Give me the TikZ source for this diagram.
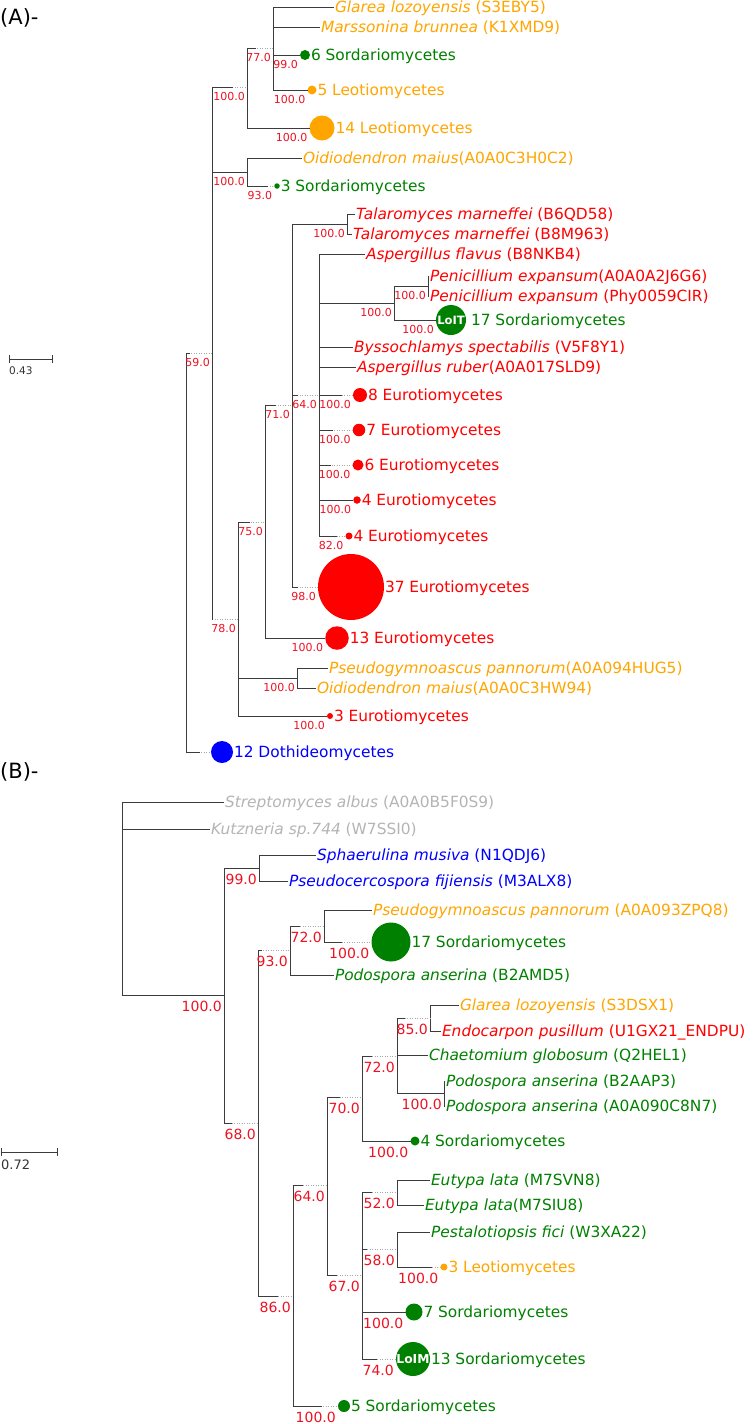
\documentclass[tikz,border=0pt]{standalone}
\usepackage{fontspec}
\setmainfont{DejaVu Sans}
\usetikzlibrary{positioning,arrows.meta}

% species name in italics, accession upright
\newcommand{\taxon}[2]{\textit{#1}#2}

\begin{document}
\begin{tikzpicture}[x=1pt, y=-1pt]

\definecolor{sordgreen}{HTML}{008000}
\definecolor{leoorange}{HTML}{FFA500}
\definecolor{eurred}{HTML}{FF0000}
\definecolor{dothblue}{HTML}{0000FF}
\definecolor{outgrey}{HTML}{B4B4B4}
\definecolor{bootred}{HTML}{EE1122}
\definecolor{treeline}{HTML}{3C3C3C}
\definecolor{treedot}{HTML}{A8A8A8}

\tikzset{
  branch/.style={draw=treeline, line width=0.9pt},
  dotbranch/.style={draw=treedot, line width=0.8pt, dash pattern=on 0.9pt off 1.6pt},
  innode/.style={inner sep=0pt, outer sep=0pt, minimum size=0pt},
  leaf/.style={anchor=west, inner sep=1pt, outer sep=0pt,
    font=\fontsize{15.4}{18}\selectfont, text height=11.2pt, text depth=0pt},
  clade/.style={circle, inner sep=0pt, outer sep=0pt, minimum size=#1},
  bootA/.style={anchor=north east, inner sep=0pt, text=bootred,
    font=\fontsize{11}{13}\selectfont},
  bootB/.style={anchor=north east, inner sep=0pt, text=bootred,
    font=\fontsize{14}{16}\selectfont},
  tagtext/.style={inner sep=0pt, text=white, font=\bfseries\fontsize{#1}{14}\selectfont},
  panelhead/.style={anchor=west, inner sep=0pt, font=\fontsize{21}{24}\selectfont},
  scaletext/.style={anchor=north west, inner sep=0pt, text=black!80}
}

\useasboundingbox (0,0) rectangle (755,1424);

% ---------------- (A) ----------------
\node[panelhead] (aHead) at (0,18) {(A)-};

% internal nodes
\node[innode] (aR)    at (186,552) {};
\node[innode] (a59)   at (212,353) {};
\node[innode] (a100a) at (247,87) {};
\node[innode] (a77)   at (273,48) {};
\node[innode] (a100b) at (247,172) {};
\node[innode] (a78)   at (238,619) {};
\node[innode] (a75)   at (265,522) {};
\node[innode] (a71)   at (292,405) {};
\node[innode] (aTal)  at (347,224) {};
\node[innode] (a64)   at (319,395) {};
\node[innode] (aPen)  at (394,303) {};
\node[innode] (aPex)  at (428,286) {};
\node[innode] (a100c) at (297,678) {};

% single sequences
\node[leaf, text=leoorange] (aGla)  at (334,7)   {\taxon{Glarea lozoyensis}{ (S3EBY5)}};
\node[leaf, text=leoorange] (aMar)  at (320,27)  {\taxon{Marssonina brunnea}{ (K1XMD9)}};
\node[leaf, text=leoorange] (aOid1) at (302,158) {\taxon{Oidiodendron maius}{(A0A0C3H0C2)}};
\node[leaf, text=eurred]    (aTal1) at (355,214) {\taxon{Talaromyces marneffei}{ (B6QD58)}};
\node[leaf, text=eurred]    (aTal2) at (352,234) {\taxon{Talaromyces marneffei}{ (B8M963)}};
\node[leaf, text=eurred]    (aAsf)  at (365,254) {\taxon{Aspergillus flavus}{ (B8NKB4)}};
\node[leaf, text=eurred]    (aPe1)  at (429,276) {\taxon{Penicillium expansum}{(A0A0A2J6G6)}};
\node[leaf, text=eurred]    (aPe2)  at (429,296) {\taxon{Penicillium expansum}{ (Phy0059CIR)}};
\node[leaf, text=eurred]    (aBys)  at (353,347) {\taxon{Byssochlamys spectabilis}{ (V5F8Y1)}};
\node[leaf, text=eurred]    (aAsr)  at (356,367) {\taxon{Aspergillus ruber}{(A0A017SLD9)}};
\node[leaf, text=leoorange] (aPsg)  at (328,668) {\taxon{Pseudogymnoascus pannorum}{(A0A094HUG5)}};
\node[leaf, text=leoorange] (aOid2) at (316,688) {\taxon{Oidiodendron maius}{(A0A0C3HW94)}};

% collapsed clades: dot size follows the number of sequences
\foreach \name/\x/\y/\d/\gap/\col/\txt in {
  aS6/305/55/10/0/sordgreen/6 Sordariomycetes,
  aL5/312/90/9/0/leoorange/5 Leotiomycetes,
  aL14/322/128/25/0/leoorange/14 Leotiomycetes,
  aS3/277/186/5.5/0/sordgreen/3 Sordariomycetes,
  aLoIT/451/320/30/4/sordgreen/17 Sordariomycetes,
  aE8/360/395/14/0/eurred/8 Eurotiomycetes,
  aE7/359/430/12.5/0/eurred/7 Eurotiomycetes,
  aE6/358/465/11/0/eurred/6 Eurotiomycetes,
  aE4a/357/500/7.5/0/eurred/4 Eurotiomycetes,
  aE4b/349/536/7/0/eurred/4 Eurotiomycetes,
  aE37/351/587/66/0/eurred/37 Eurotiomycetes,
  aE13/337/638/23.5/0/eurred/13 Eurotiomycetes,
  aE3/330/716/6/0/eurred/3 Eurotiomycetes,
  aD12/222/752/22/0/dothblue/12 Dothideomycetes}{
  \node[clade=\d, fill=\col] (\name) at (\x,\y) {};
  \node[leaf, text=\col, right=\gap pt of \name] (\name-t) {\txt};
}
\node[tagtext=11.5] (aLoIT-tag) at (aLoIT) {LoIT};

% branches
\foreach \from/\to in {
  a77/aGla, a77/aMar, a77/aS6, a77/aL5, a100a/aL14,
  a59/a100b, a100b/aOid1,
  a71/aTal, aTal/aTal1, aTal/aTal2,
  a64/aAsf, a64/aPen, aPen/aPex, aPex/aPe1, aPex/aPe2, aPen/aLoIT,
  a64/aBys, a64/aAsr, a64/aE4a,
  a75/aE13, a78/a100c, a100c/aPsg, a100c/aOid2, a78/aE3}
  \draw[branch] (\from) |- (\to);

% branches that end in a dotted stretch (solid length in pt)
\foreach \from/\to/\solid in {
  aR/a59/4, a59/a100a/21, a100a/a77/9, a100b/aS3/21, a59/a78/1,
  aR/aD12/14, a78/a75/12, a75/a71/11, a71/a64/6,
  a64/aE8/23, a64/aE7/14, a64/aE6/12, a64/aE4b/18, a71/aE37/6}{
  \draw[dotbranch] (\from |- \to) -- (\to);
  \draw[branch] (\from) |- ([xshift=\solid pt]\from |- \to);
}

% bootstrap support
\foreach \at/\val in {
  a59/59.0, a100a/100.0, a77/77.0, aS6/99.0, aL5/100.0, aL14/100.0,
  a100b/100.0, aS3/93.0, a78/78.0, a75/75.0, a71/71.0, aTal/100.0,
  a64/64.0, aPen/100.0, aPex/100.0, aLoIT/100.0,
  aE8/100.0, aE7/100.0, aE6/100.0, aE4a/100.0, aE4b/82.0,
  aE37/98.0, aE13/100.0, a100c/100.0, aE3/100.0}
  \node[bootA] (\at-bs) at ([shift={(-2,5)}]\at.west) {\val};

% scale
\draw[branch, line width=0.8pt, {Bar[width=8pt]}-{Bar[width=8pt]}] (9,359) -- (53,359);
\node[scaletext, font=\fontsize{10.5}{12}\selectfont] (aScale) at (9,367) {0.43};

% ---------------- (B) ----------------
\node[panelhead] (bHead) at (0,772) {(B)-};

% internal nodes
\node[innode] (bR)   at (122,802) {};
\node[innode] (b100) at (224,995) {};
\node[innode] (b99)  at (259,868) {};
\node[innode] (b68)  at (258,1123) {};
\node[innode] (b93)  at (290,950) {};
\node[innode] (b72)  at (324,926) {};
\node[innode] (b86)  at (293,1296) {};
\node[innode] (b64)  at (327,1185) {};
\node[innode] (b70)  at (362,1097) {};
\node[innode] (b72b) at (397,1056) {};
\node[innode] (b85)  at (430,1018) {};
\node[innode] (bPod) at (444,1093) {};
\node[innode] (b67)  at (362,1275) {};
\node[innode] (b52)  at (397,1192) {};
\node[innode] (b58)  at (397,1249) {};

% single sequences
\node[leaf, text=outgrey]   (bStr)  at (224,802)  {\taxon{Streptomyces albus}{ (A0A0B5F0S9)}};
\node[leaf, text=outgrey]   (bKut)  at (210,829)  {\taxon{Kutzneria sp.744}{ (W7SSI0)}};
\node[leaf, text=dothblue]  (bSph)  at (316,855)  {\taxon{Sphaerulina musiva}{ (N1QDJ6)}};
\node[leaf, text=dothblue]  (bPsc)  at (288,881)  {\taxon{Pseudocercospora fijiensis}{ (M3ALX8)}};
\node[leaf, text=leoorange] (bPsg)  at (372,910)  {\taxon{Pseudogymnoascus pannorum}{ (A0A093ZPQ8)}};
\node[leaf, text=sordgreen] (bPod1) at (334,975)  {\taxon{Podospora anserina}{ (B2AMD5)}};
\node[leaf, text=leoorange] (bGla)  at (459,1005) {\taxon{Glarea lozoyensis}{ (S3DSX1)}};
\node[leaf, text=eurred]    (bEnd)  at (441,1031) {\taxon{Endocarpon pusillum}{ (U1GX21\_ENDPU)}};
\node[leaf, text=sordgreen] (bCha)  at (428,1055) {\taxon{Chaetomium globosum}{ (Q2HEL1)}};
\node[leaf, text=sordgreen] (bPod2) at (445,1081) {\taxon{Podospora anserina}{ (B2AAP3)}};
\node[leaf, text=sordgreen] (bPod3) at (445,1106) {\taxon{Podospora anserina}{ (A0A090C8N7)}};
\node[leaf, text=sordgreen] (bEut1) at (430,1180) {\taxon{Eutypa lata}{ (M7SVN8)}};
\node[leaf, text=sordgreen] (bEut2) at (424,1205) {\taxon{Eutypa lata}{(M7SIU8)}};
\node[leaf, text=sordgreen] (bPes)  at (430,1232) {\taxon{Pestalotiopsis fici}{ (W3XA22)}};

% collapsed clades
\foreach \name/\x/\y/\d/\gap/\col/\txt in {
  bS17/391/942/39/0/sordgreen/17 Sordariomycetes,
  bS4/415/1141/9/0/sordgreen/4 Sordariomycetes,
  bL3/444/1267/7/0/leoorange/3 Leotiomycetes,
  bS7/414/1312/17/0/sordgreen/7 Sordariomycetes,
  bLoIM/413/1359/34/0/sordgreen/13 Sordariomycetes,
  bS5/344/1406/12/0/sordgreen/5 Sordariomycetes}{
  \node[clade=\d, fill=\col] (\name) at (\x,\y) {};
  \node[leaf, text=\col, right=\gap pt of \name] (\name-t) {\txt};
}
\node[tagtext=12.3] (bLoIM-tag) at (bLoIM) {LoIM};

% branches
\foreach \from/\to in {
  bR/bStr, bR/bKut, bR/b100, b100/b99, b99/bSph, b99/bPsc,
  b72/bPsg, b93/bPod1, b85/bGla, b85/bEnd, b72b/bCha, b72b/bPod,
  bPod/bPod2, bPod/bPod3, b70/bS4, b52/bEut1, b52/bEut2, b58/bPes, b67/bS7}
  \draw[branch] (\from) |- (\to);

\foreach \from/\to/\solid in {
  b100/b68/8, b68/b93/4, b93/b72/10, b72/bS17/18, b68/b86/20,
  b86/b64/10, b86/bS5/29, b64/b70/13, b70/b72b/10, b72b/b85/8,
  b64/b67/10, b67/b52/10, b67/b58/5, b58/bL3/35, b67/bLoIM/15}{
  \draw[dotbranch] (\from |- \to) -- (\to);
  \draw[branch] (\from) |- ([xshift=\solid pt]\from |- \to);
}

% bootstrap support
\foreach \at/\val in {
  b100/100.0, b99/99.0, b68/68.0, b93/93.0, b72/72.0, bS17/100.0,
  b85/85.0, b72b/72.0, b70/70.0, bPod/100.0, bS4/100.0, b64/64.0,
  b52/52.0, b58/58.0, bL3/100.0, b67/67.0, b86/86.0, bS7/100.0,
  bLoIM/74.0, bS5/100.0}
  \node[bootB] (\at-bs) at ([shift={(-2,5.5)}]\at.west) {\val};

% scale
\draw[branch, line width=0.8pt, {Bar[width=8pt]}-{Bar[width=8pt]}] (1,1152) -- (58,1152);
\node[scaletext, font=\fontsize{13}{15}\selectfont] (bScale) at (1,1160) {0.72};

\end{tikzpicture}
\end{document}
